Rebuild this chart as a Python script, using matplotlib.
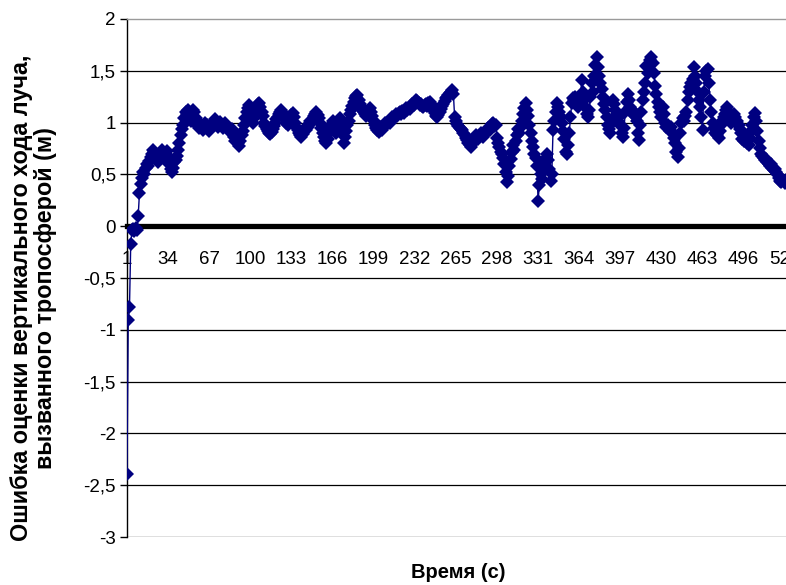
import numpy as np
import matplotlib
matplotlib.use("Agg")
import matplotlib.pyplot as plt
from matplotlib.ticker import FuncFormatter, FixedLocator

plt.rcParams['font.family'] = ['Liberation Sans', 'DejaVu Sans']

# Tropospheric vertical path delay estimation error (m), one value per second
errors = [
    -2.39, -0.91, -0.78, -0.17, -0.04, -0.03, -0.05, -0.02, -0.04, 0.10,
    0.32, 0.41, 0.47, 0.52, 0.50, 0.56, 0.60, 0.58, 0.63, 0.67,
    0.70, 0.74, 0.72, 0.69, 0.66, 0.62, 0.64, 0.70, 0.74, 0.71,
    0.68, 0.70, 0.73, 0.66, 0.60, 0.55, 0.52, 0.56, 0.62, 0.64,
    0.68, 0.74, 0.80, 0.88, 0.94, 0.98, 1.04, 1.10, 1.08, 1.12,
    1.06, 1.02, 1.08, 1.12, 1.10, 1.04, 1.00, 0.97, 0.95, 0.99,
    0.96, 0.93, 0.97, 1.00, 0.98, 0.95, 0.92, 0.96, 0.99, 0.97,
    1.00, 1.03, 0.99, 0.96, 0.98, 1.01, 0.97, 0.95, 0.98, 1.00,
    0.96, 0.93, 0.95, 0.92, 0.94, 0.90, 0.86, 0.82, 0.84, 0.80,
    0.77, 0.82, 0.88, 0.92, 0.98, 1.04, 1.10, 1.14, 1.17, 1.12,
    1.05, 1.00, 1.04, 1.10, 1.14, 1.18, 1.19, 1.15, 1.10, 1.06,
    1.00, 0.97, 0.94, 0.92, 0.90, 0.89, 0.91, 0.94, 0.97, 1.00,
    1.03, 1.05, 1.08, 1.10, 1.12, 1.09, 1.06, 1.03, 1.00, 0.98,
    1.01, 1.04, 1.07, 1.09, 1.05, 1.00, 0.96, 0.93, 0.90, 0.88,
    0.86, 0.89, 0.92, 0.95, 0.93, 0.96, 0.99, 1.02, 1.00, 1.03,
    1.06, 1.08, 1.10, 1.07, 1.04, 1.00, 0.95, 0.90, 0.86, 0.82,
    0.80, 0.84, 0.90, 0.95, 0.98, 1.02, 0.97, 0.92, 0.90, 0.94,
    1.00, 1.04, 1.02, 0.90, 0.80, 0.86, 0.92, 0.98, 1.02, 1.08,
    1.12, 1.16, 1.20, 1.24, 1.26, 1.27, 1.22, 1.18, 1.15, 1.12,
    1.10, 1.08, 1.06, 1.10, 1.12, 1.14, 1.10, 1.06, 1.02, 0.98,
    0.95, 0.93, 0.91, 0.94, 0.96, 0.93, 0.97, 1.00, 0.98, 1.00,
    1.02, 1.00, 1.03, 1.05, 1.04, 1.06, 1.08, 1.06, 1.09, 1.10,
    1.08, 1.11, 1.09, 1.12, 1.14, 1.12, 1.15, 1.13, 1.16, 1.18,
    1.17, 1.20, 1.22, 1.21, 1.19, 1.17, 1.18, 1.16, 1.15, 1.17,
    1.18, 1.16, 1.19, 1.20, 1.18, 1.15, 1.12, 1.09, 1.06, 1.05,
    1.07, 1.10, 1.13, 1.16, 1.18, 1.21, 1.24, 1.25, 1.27, 1.29,
    1.30, 1.31, 1.28, 1.05, 1.02, 0.99, 0.97, 0.95, 0.94, 0.93,
    0.90, 0.88, 0.85, 0.83, 0.80, 0.78, 0.76, 0.79, 0.82, 0.85,
    0.88, 0.86, 0.84, 0.87, 0.90, 0.88, 0.86, 0.89, 0.91, 0.93,
    0.95, 0.93, 0.96, 0.99, 1.00, 0.97, 0.98, 0.85, 0.80, 0.76,
    0.72, 0.70, 0.66, 0.60, 0.52, 0.43, 0.48, 0.58, 0.65, 0.72,
    0.78, 0.74, 0.82, 0.88, 0.94, 0.90, 0.96, 1.02, 1.08, 1.14,
    1.19, 1.12, 1.06, 0.98, 0.90, 0.82, 0.76, 0.70, 0.66, 0.58,
    0.24, 0.40, 0.50, 0.46, 0.55, 0.62, 0.66, 0.70, 0.64, 0.55,
    0.44, 0.50, 0.93, 1.02, 1.10, 1.19, 1.15, 1.10, 1.05, 1.00,
    0.92, 0.84, 0.72, 0.70, 0.78, 0.90, 1.05, 1.19, 1.24, 1.22,
    1.25, 1.20, 1.15, 1.18, 1.26, 1.41, 1.30, 1.22, 1.15, 1.08,
    1.05, 1.12, 1.25, 1.38, 1.30, 1.45, 1.56, 1.63, 1.54, 1.45,
    1.38, 1.32, 1.25, 1.18, 1.12, 1.05, 0.98, 0.94, 0.90, 1.00,
    1.22, 1.18, 1.12, 1.08, 1.02, 1.05, 0.98, 0.90, 0.86, 0.95,
    1.10, 1.20, 1.28, 1.22, 1.15, 1.12, 1.08, 1.10, 1.06, 1.02,
    0.90, 0.83, 0.98, 1.10, 1.22, 1.30, 1.38, 1.55, 1.48, 1.56,
    1.60, 1.63, 1.58, 1.48, 1.35, 1.28, 1.20, 1.15, 1.10, 1.05,
    1.15, 1.08, 1.00, 0.96, 0.98, 0.94, 0.92, 0.96, 0.90, 0.85,
    0.80, 0.72, 0.67, 0.75, 0.90, 1.00, 1.04, 1.02, 1.06, 1.10,
    1.22, 1.30, 1.34, 1.38, 1.42, 1.54, 1.45, 1.38, 1.30, 1.22,
    1.15, 1.05, 0.93, 1.30, 1.45, 1.50, 1.52, 1.38, 1.22, 1.10,
    1.00, 0.95, 0.90, 0.94, 0.88, 0.85, 0.92, 0.98, 1.02, 1.05,
    1.08, 1.12, 1.15, 1.10, 1.05, 1.00, 1.03, 1.08, 1.05, 1.00,
    1.02, 0.98, 0.94, 0.90, 0.84, 0.82, 0.88, 0.85, 0.80, 0.78,
    0.85, 0.92, 0.98, 1.05, 1.09, 1.02, 0.92, 0.82, 0.75, 0.70,
    0.68, 0.66, 0.64, 0.65, 0.62, 0.60, 0.58, 0.60, 0.56, 0.54,
    0.55, 0.52, 0.50, 0.47, 0.44, 0.43, 0.46, 0.44, 0.42, 0.45,
]
seconds = np.arange(1, len(errors) + 1)

x_tick_values = list(range(1, 530, 33))
y_tick_values = list(np.arange(-3.0, 2.01, 0.5))

fig = plt.figure(figsize=(7.86, 5.85), dpi=100)
ax = fig.add_axes([127 / 786, 48 / 585, (786 - 127) / 786, (537 - 19) / 585])

ax.set_xlim(1, 530)
ax.set_ylim(-3, 2)

# horizontal gridlines
for yv in y_tick_values[:-1]:
    ax.axhline(yv, color='black', lw=0.9, zorder=1)

ax.plot(seconds, errors, color='#000080', lw=1.0, marker='D', ms=7.4,
        markeredgewidth=0, zorder=3, clip_on=True)

# axes styling
ax.spines['right'].set_visible(False)
ax.spines['top'].set_color('#9a9a9a')
ax.spines['top'].set_linewidth(1.0)
ax.spines['left'].set_color('black')
ax.spines['left'].set_linewidth(1.0)
ax.spines['bottom'].set_position(('data', 0))
ax.spines['bottom'].set_color('black')
ax.spines['bottom'].set_linewidth(3.8)
ax.spines['bottom'].set_zorder(2)

ax.xaxis.set_major_locator(FixedLocator(x_tick_values))
ax.set_xticklabels([str(v) for v in x_tick_values])
ax.tick_params(axis='x', length=0, pad=18, labelsize=13.5)

ax.yaxis.set_major_locator(FixedLocator(y_tick_values))
ax.yaxis.set_major_formatter(FuncFormatter(lambda v, p: f"{v:g}".replace('.', ',')))
ax.tick_params(axis='y', direction='out', length=5, width=1, pad=3, labelsize=13.5)

fig.text(458 / 786, 1 - 573 / 585, "Время (с)", ha='center', va='center',
         fontsize=14.5, fontweight='bold')
fig.text(22 / 786, 1 - 298 / 585, "Ошибка оценки вертикального хода луча,",
         ha='center', va='center', rotation=90, fontsize=16.8, fontweight='bold')
fig.text(46 / 786, 1 - 298 / 585, "вызванного тропосферой (м)",
         ha='center', va='center', rotation=90, fontsize=16.8, fontweight='bold')

fig.savefig("out.png", dpi=100)
